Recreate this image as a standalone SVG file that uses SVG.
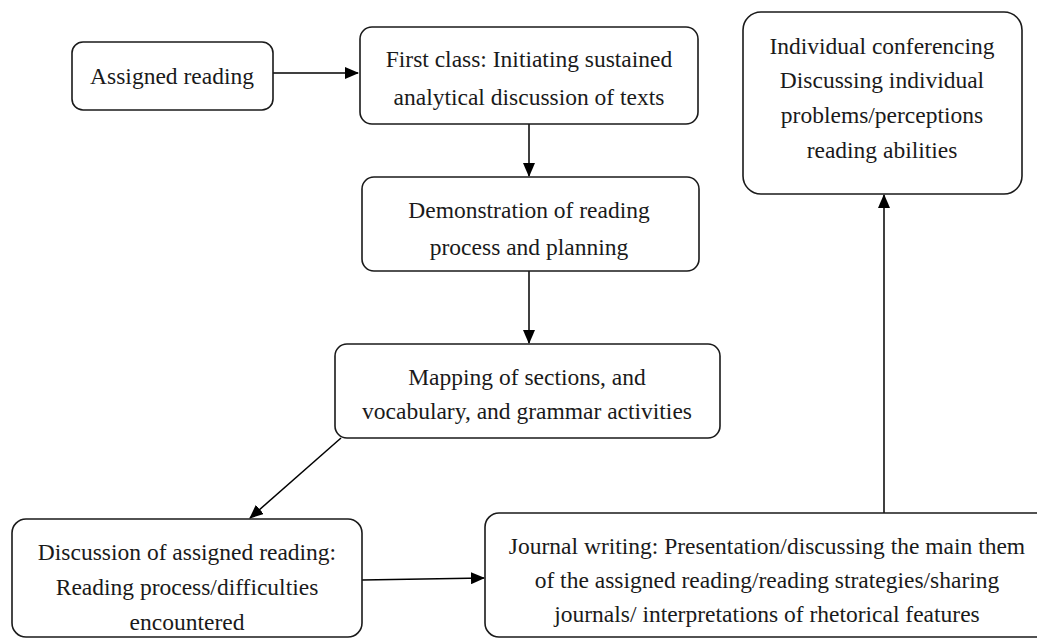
<svg xmlns="http://www.w3.org/2000/svg" width="1037" height="639" viewBox="0 0 1037 639">
<defs>
<marker id="arr" markerUnits="userSpaceOnUse" markerWidth="14" markerHeight="12" refX="13" refY="6" orient="auto">
<path d="M0,0 L14,6 L0,12 Z" fill="#000"/>
</marker>
<style>
.box{fill:#fff;stroke:#1a1a1a;stroke-width:1.6}
.t{font-family:"Liberation Serif","Times New Roman",serif;font-size:23.5px;fill:#1a1a1a;text-anchor:middle}
.c{stroke:#000;stroke-width:1.5;fill:none;marker-end:url(#arr)}
</style>
</defs>
<rect width="1037" height="639" fill="#fff"/>
<g id="connectors">
<line class="c" x1="273" y1="73" x2="358" y2="73"/>
<line class="c" x1="529" y1="124" x2="529" y2="176"/>
<line class="c" x1="529" y1="271" x2="529" y2="343"/>
<line class="c" x1="341" y1="438" x2="250" y2="518"/>
<line class="c" x1="362" y1="580" x2="484" y2="578"/>
<line class="c" x1="884" y1="513" x2="884" y2="195"/>
</g>
<g id="n1">
<rect class="box" x="72" y="42" width="201" height="68" rx="11"/>
<text class="t" x="172" y="84">Assigned reading</text>
</g>
<g id="n2">
<rect class="box" x="360" y="27" width="338" height="97" rx="12"/>
<text class="t" x="529" y="67">First class: Initiating sustained</text>
<text class="t" x="529" y="105">analytical discussion of texts</text>
</g>
<g id="n3">
<rect class="box" x="362" y="177" width="337" height="94" rx="12"/>
<text class="t" x="529" y="218">Demonstration of reading</text>
<text class="t" x="529" y="255">process and planning</text>
</g>
<g id="n4">
<rect class="box" x="335" y="344" width="385" height="94" rx="12"/>
<text class="t" x="527" y="385">Mapping of sections, and</text>
<text class="t" x="527" y="419">vocabulary, and grammar activities</text>
</g>
<g id="n5">
<rect class="box" x="12" y="519" width="350" height="118" rx="14"/>
<text class="t" x="187" y="560">Discussion of assigned reading:</text>
<text class="t" x="187" y="595">Reading process/difficulties</text>
<text class="t" x="187" y="630">encountered</text>
</g>
<g id="n6">
<rect class="box" x="485" y="513" width="580" height="124" rx="14"/>
<text class="t" x="767" y="554">Journal writing: Presentation/discussing the main them</text>
<text class="t" x="767" y="588">of the assigned reading/reading strategies/sharing</text>
<text class="t" x="767" y="622">journals/ interpretations of rhetorical features</text>
</g>
<g id="n7">
<rect class="box" x="743" y="12" width="279" height="182" rx="18"/>
<text class="t" x="882" y="54">Individual conferencing</text>
<text class="t" x="882" y="88">Discussing individual</text>
<text class="t" x="882" y="123">problems/perceptions</text>
<text class="t" x="882" y="158">reading abilities</text>
</g>
</svg>
